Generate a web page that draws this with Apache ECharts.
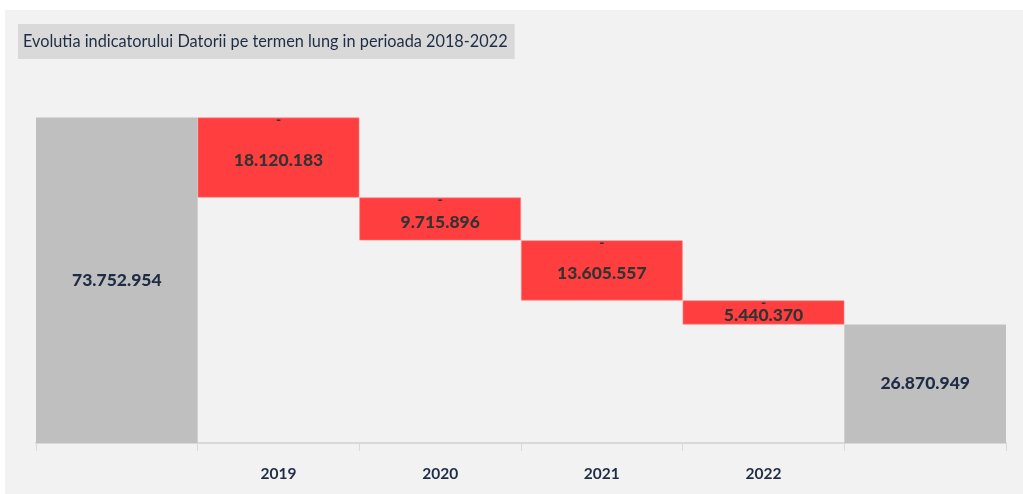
<!DOCTYPE html>
<html>
<head>
<meta charset="utf-8">
<script src="https://cdn.jsdelivr.net/npm/echarts@6/dist/echarts.min.js"></script>
<style>
  html, body { margin: 0; padding: 0; background: #ffffff; }
  #wrap { position: absolute; left: 5px; top: 10px; width: 1018px; height: 484px; background: #f2f2f2; }
  #chart { width: 1018px; height: 484px; }
</style>
</head>
<body>
<div id="wrap"><div id="chart"></div></div>
<script>
// date grafic
var titlu = 'Evolutia indicatorului Datorii pe termen lung in perioada 2018-2022';
var categorii = ['', '2019', '2020', '2021', '2022', ''];
var valoareInitiala = 73752954;
var scaderi = [18120183, 9715896, 13605557, 5440370];
var valoareFinala = 26870949;

function formatNr(v) {
    return String(v).replace(/\B(?=(\d{3})+(?!\d))/g, '.');
}

// baza transparenta + barele rosii + barele gri
var baza = [0];
var rosu = ['-'];
var gri = [valoareInitiala];
var liniuta = ['-'];
var nivel = valoareInitiala;
scaderi.forEach(function (d) {
    nivel = nivel - d;
    baza.push(nivel);
    rosu.push(d);
    gri.push('-');
    liniuta.push(0);
});
baza.push(0);
rosu.push('-');
gri.push(valoareFinala);
liniuta.push('-');

var chart = echarts.init(document.getElementById('chart'));
var fontNr = 'Lato, "Open Sans", sans-serif';

chart.setOption({
    backgroundColor: 'transparent',
    animation: false,
    title: {
        text: titlu,
        left: 13,
        top: 14,
        padding: [7, 7, 7, 5],
        backgroundColor: '#d9d9d9',
        textStyle: {
            fontFamily: fontNr,
            fontWeight: 'normal',
            fontSize: 16.3,
            lineHeight: 21,
            color: '#1f2d44'
        }
    },
    grid: {
        left: 31,
        right: 17,
        top: 80,
        bottom: 51
    },
    xAxis: {
        type: 'category',
        data: categorii,
        axisLine: { lineStyle: { color: '#d9d9d9', width: 2 } },
        axisTick: { show: true, length: 8, lineStyle: { color: '#d9d9d9', width: 1 } },
        axisLabel: {
            margin: 23,
            fontFamily: fontNr,
            fontWeight: 'bold',
            fontSize: 15.5,
            color: '#1f2d44'
        }
    },
    yAxis: {
        type: 'value',
        min: 0,
        max: 80000000,
        show: false,
        splitLine: { show: false }
    },
    series: [
        {
            name: 'baza',
            type: 'bar',
            stack: 'w',
            data: baza,
            barCategoryGap: 0,
            itemStyle: { color: 'transparent' },
            silent: true
        },
        {
            name: 'scadere',
            type: 'bar',
            stack: 'w',
            data: rosu,
            barCategoryGap: 0,
            itemStyle: { color: '#ff3f3f', borderColor: '#ff8585', borderWidth: 0.6 },
            label: {
                show: true,
                position: 'inside',
                offset: [0, 3],
                formatter: function (p) { return formatNr(p.value); },
                fontFamily: fontNr,
                fontWeight: 900,
                fontSize: 17.5,
                color: '#333333'
            }
        },
        {
            name: 'liniuta',
            type: 'bar',
            stack: 'w',
            data: liniuta,
            barCategoryGap: 0,
            itemStyle: { color: 'transparent' },
            label: {
                show: true,
                position: 'insideTop',
                distance: 0,
                offset: [0, -5],
                formatter: '-',
                fontFamily: fontNr,
                fontWeight: 900,
                fontSize: 14,
                color: '#333333'
            }
        },
        {
            name: 'total',
            type: 'bar',
            stack: 'w',
            data: gri,
            barCategoryGap: 0,
            itemStyle: { color: '#bfbfbf' },
            label: {
                show: true,
                position: 'inside',
                formatter: function (p) { return formatNr(p.value); },
                fontFamily: fontNr,
                fontWeight: 900,
                fontSize: 17.5,
                color: '#1f2d44'
            }
        }
    ]
});
</script>
</body>
</html>
